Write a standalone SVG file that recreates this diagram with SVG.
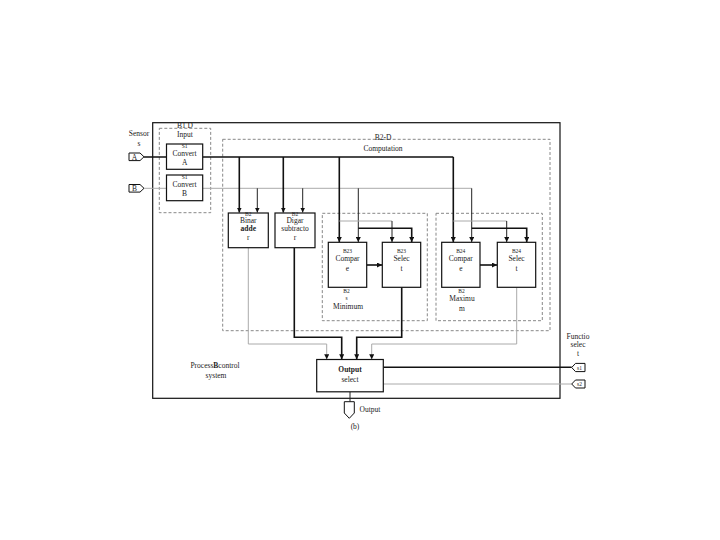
<svg xmlns="http://www.w3.org/2000/svg" width="720" height="540" viewBox="0 0 720 540">
<defs>
<style>
text{font-family:"Liberation Serif","Times New Roman",serif;fill:#222;text-anchor:middle}
.t{font-size:7.5px}
.s{font-size:5.5px}
.box{fill:#fff;stroke:#111;stroke-width:1.2}
.dash{fill:none;stroke:#888;stroke-width:1;stroke-dasharray:3,2}
.thick{fill:none;stroke:#111;stroke-width:1.6}
.thin{fill:none;stroke:#aaa;stroke-width:1}
.drop{fill:none;stroke:#222;stroke-width:1}
.tag{fill:#fff;stroke:#111;stroke-width:1}
</style>
<marker id="ah" viewBox="0 0 8 8" refX="8" refY="4" markerWidth="5" markerHeight="5" orient="auto" markerUnits="userSpaceOnUse">
<path d="M0,0 L8,4 L0,8 z" fill="#111"/>
</marker>
</defs>
<rect width="720" height="540" fill="#fff"/>

<g id="frame">
<rect x="152.7" y="122.7" width="407.3" height="275.6" fill="none" stroke="#111" stroke-width="1.2"/>
<text class="t" x="215" y="368">Process<tspan style="font-weight:bold">B</tspan>control</text>
<text class="t" x="216" y="378">system</text>
</g>

<g id="b1">
<rect class="dash" x="159.3" y="128.3" width="51.4" height="84.4"/>
<text class="t" x="185" y="127.5">B1 D</text>
<text class="t" x="185" y="137">Input</text>
</g>

<g id="b2">
<rect class="dash" x="222.7" y="139.3" width="327.3" height="191.4"/>
<text class="t" x="383" y="139.5">B2-D</text>
<text class="t" x="383" y="150.5">Computation</text>
</g>

<g id="minimum">
<rect class="dash" x="322.3" y="213.3" width="105" height="107.4"/>
<text class="s" x="346.5" y="292.5">B2</text>
<text class="s" x="346.5" y="300">s</text>
<text class="t" x="348" y="309">Minimum</text>
</g>

<g id="maximum">
<rect class="dash" x="436" y="213.3" width="106.3" height="107.4"/>
<text class="s" x="461.5" y="292.5">B2</text>
<text class="t" x="462" y="300.5">Maximu</text>
<text class="t" x="462" y="311">m</text>
</g>

<g id="connectors">
<path class="thick" d="M144,157 H166.5 M202.7,157 H453.3"/>
<path class="thin" d="M144,188.3 H166.5 M202.7,188.3 H471.7"/>
<path class="thick" d="M239.3,157 V212.5" marker-end="url(#ah)"/>
<path class="drop" d="M257.3,188.3 V212.5" marker-end="url(#ah)"/>
<path class="thick" d="M283.3,157 V212.5" marker-end="url(#ah)"/>
<path class="drop" d="M302.7,188.3 V212.5" marker-end="url(#ah)"/>
<path class="thick" d="M339.3,157 V242" marker-end="url(#ah)"/>
<path class="drop" d="M358.3,188.3 V242" marker-end="url(#ah)"/>
<path class="thick" d="M453.3,157 V242" marker-end="url(#ah)"/>
<path class="drop" d="M471.7,188.3 V242" marker-end="url(#ah)"/>
<path class="thin" d="M339.3,221 H392"/>
<path class="drop" d="M392,221 V242" marker-end="url(#ah)"/>
<path class="thick" d="M358.3,228.3 H411.7 V242" marker-end="url(#ah)"/>
<path class="thin" d="M453.3,221 H506.7"/>
<path class="drop" d="M506.7,221 V242" marker-end="url(#ah)"/>
<path class="thick" d="M471.7,228.3 H526.7 V242" marker-end="url(#ah)"/>
<path class="thick" d="M366.5,265 H382" marker-end="url(#ah)"/>
<path class="thick" d="M480,265 H497" marker-end="url(#ah)"/>
<path class="thin" d="M248.3,247.7 V344 H326.7 V359.3" marker-end="url(#ah)"/>
<path class="thick" d="M294.3,247.7 V337.3 H341.7 V359.3" marker-end="url(#ah)"/>
<path class="thick" d="M401.7,287.3 V337.3 H356.7 V359.3" marker-end="url(#ah)"/>
<path class="thin" d="M516.7,287.3 V344 H371.7 V359.3" marker-end="url(#ah)"/>
<path class="thick" d="M383.3,367.3 H571.7"/>
<path class="thin" d="M383.3,384 H571.7"/>
<path class="drop" d="M350,391.8 V401.7"/>
</g>

<g id="sensor-A">
<text class="t" x="139" y="136">Sensor</text>
<text class="t" x="139" y="146">s</text>
<polygon class="tag" points="129,153 140,153 144,156.8 140,160.6 129,160.6"/>
<text class="t" x="134.5" y="159.5">A</text>
</g>
<g id="sensor-B">
<polygon class="tag" points="129,184.5 140,184.5 144,188.3 140,192.1 129,192.1"/>
<text class="t" x="134.5" y="191">B</text>
</g>

<g id="convert-a">
<rect class="box" x="166.5" y="144" width="36.2" height="25.3"/>
<text class="s" x="184.6" y="148">S1</text>
<text class="t" x="184.6" y="155.5">Convert</text>
<text class="t" x="184.6" y="165">A</text>
</g>
<g id="convert-b">
<rect class="box" x="166.5" y="175" width="36.2" height="25.7"/>
<text class="s" x="184.6" y="179">S1</text>
<text class="t" x="184.6" y="186.5">Convert</text>
<text class="t" x="184.6" y="196">B</text>
</g>

<g id="adder">
<rect class="box" x="228.3" y="213" width="40" height="34.7"/>
<text class="s" x="248.3" y="215.5">B2</text>
<text class="t" x="248.3" y="223">Binar</text>
<text class="t" x="248.3" y="231" style="font-weight:bold">adde</text>
<text class="t" x="248.3" y="240">r</text>
</g>
<g id="subtractor">
<rect class="box" x="275" y="213" width="40" height="34.7"/>
<text class="s" x="295" y="215.5">B2</text>
<text class="t" x="295" y="223">Digar</text>
<text class="t" x="295" y="231">subtracto</text>
<text class="t" x="295" y="240">r</text>
</g>

<g id="compare-min">
<rect class="box" x="328.3" y="242.3" width="38.4" height="45"/>
<text class="s" x="347.5" y="253">B23</text>
<text class="t" x="347.5" y="261">Compar</text>
<text class="t" x="347.5" y="271">e</text>
</g>
<g id="select-min">
<rect class="box" x="382.3" y="242.3" width="38.4" height="45"/>
<text class="s" x="401.5" y="253">B23</text>
<text class="t" x="401.5" y="261">Selec</text>
<text class="t" x="401.5" y="271">t</text>
</g>
<g id="compare-max">
<rect class="box" x="441.7" y="242.3" width="38.3" height="45"/>
<text class="s" x="460.8" y="253">B24</text>
<text class="t" x="460.8" y="261">Compar</text>
<text class="t" x="460.8" y="271">e</text>
</g>
<g id="select-max">
<rect class="box" x="497.3" y="242.3" width="38.4" height="45"/>
<text class="s" x="516.5" y="253">B24</text>
<text class="t" x="516.5" y="261">Selec</text>
<text class="t" x="516.5" y="271">t</text>
</g>

<g id="output-select">
<rect class="box" x="316.7" y="359.5" width="66.6" height="32.3"/>
<text class="t" x="350" y="371.5" style="font-weight:bold">Output</text>
<text class="t" x="350" y="382">select</text>
</g>

<g id="function-select">
<text class="t" x="578" y="338.5">Functio</text>
<text class="t" x="578" y="347">selec</text>
<text class="t" x="578" y="356">t</text>
<polygon class="tag" points="571.7,367.5 575.5,363.4 585,363.4 585,371.6 575.5,371.6"/>
<text class="s" x="579.5" y="369.6">s1</text>
<polygon class="tag" points="571.7,384 575.5,380 585,380 585,388 575.5,388"/>
<text class="s" x="579.5" y="386">s2</text>
</g>

<g id="output">
<polygon class="tag" points="344.3,401.7 354.3,401.7 354.3,413 349.3,418.3 344.3,413"/>
<text class="t" x="370" y="411.5">Output</text>
<text class="t" x="355" y="428.5">(b)</text>
</g>
</svg>
